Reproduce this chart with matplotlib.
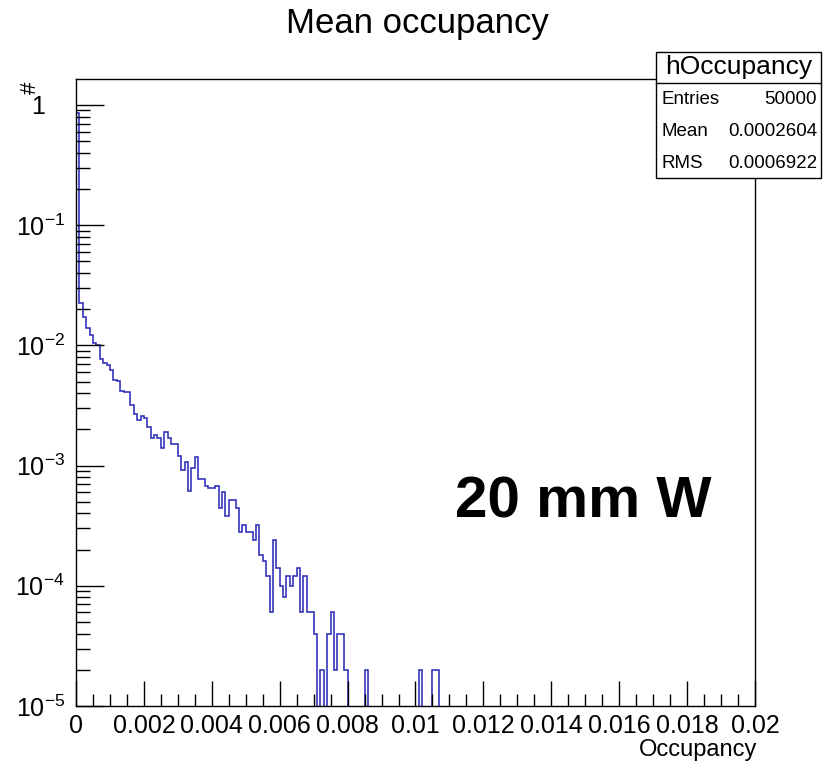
import numpy as np
import matplotlib
matplotlib.use('Agg')
import matplotlib.pyplot as plt
from matplotlib.ticker import LogLocator, MultipleLocator, NullFormatter
from matplotlib.patches import Rectangle
from matplotlib.lines import Line2D

plt.rcParams['font.family'] = ['Liberation Sans', 'DejaVu Sans']
plt.rcParams['mathtext.fontset'] = 'custom'
plt.rcParams['mathtext.rm'] = 'Liberation Sans'

# histogram: 200 bins from 0 to 0.02, contents normalised to entries
n_bins = 200
x_lo, x_hi = 0.0, 0.02
head_values = [
    0.857, 0.0226, 0.0172, 0.0140, 0.0122, 0.0105, 0.0101, 0.0077, 0.0072, 0.0069,
    0.0062, 0.0052, 0.0051, 0.0042, 0.0041, 0.0041, 0.0032, 0.0027, 0.0024, 0.0026,
    0.0025, 0.0021, 0.0017, 0.0018, 0.0017, 0.0014, 0.0019, 0.0017, 0.0015, 0.0015,
    0.0012, 0.00092, 0.00108, 0.00062, 0.00096, 0.00118, 0.00078, 0.00078, 0.00068, 0.00065,
    0.00065, 0.00068, 0.00044, 0.00060, 0.00038, 0.00052, 0.00052, 0.00044, 0.00028, 0.00032,
    0.00028, 0.00028, 0.00024, 0.00032, 0.00018, 0.00016, 0.00012, 0.00006, 0.00024, 0.00014,
    0.00010, 0.00008, 0.00012, 0.00010, 0.00012, 0.00014, 0.00006, 0.00012, 0.00006, 0.00006,
    0.00004, 0.0, 0.00002, 0.0, 0.00004, 0.00006, 0.00002, 0.00004, 0.00004, 0.00002,
]
tail_bins = [85, 101, 105, 106]
tail_values = [0.00002, 0.00002, 0.00002, 0.00002]

xtick_vals = [0, 0.002, 0.004, 0.006, 0.008, 0.01, 0.012, 0.014, 0.016, 0.018, 0.02]
xtick_labels = ['0', '0.002', '0.004', '0.006', '0.008', '0.01', '0.012', '0.014', '0.016', '0.018', '0.02']
ytick_vals = [1e-5, 1e-4, 1e-3, 1e-2, 1e-1, 1]
ytick_labels = ['$10^{-5}$', '$10^{-4}$', '$10^{-3}$', '$10^{-2}$', '$10^{-1}$', '1']

stats_rows = [('Entries', '50000'), ('Mean', '0.0002604'), ('RMS', '0.0006922')]

W, H = 829, 770
fig = plt.figure(figsize=(W / 100, H / 100), dpi=100)
ax = fig.add_axes([76 / W, 1 - 706 / H, 679 / W, 627 / H])

values = np.zeros(n_bins)
values[:len(head_values)] = head_values
values[tail_bins] = tail_values
edges = np.linspace(x_lo, x_hi, n_bins + 1)
# empty bins drop below the frame, like ROOT does on a log axis
shown = np.where(values > 0, values, 1e-8)
ax.stairs(shown, edges, baseline=None, color='#3535bb', lw=1.2)

ax.set_yscale('log')
ax.set_xlim(x_lo, x_hi)
ax.set_ylim(1e-5, 1.645)

ax.set_xticks(xtick_vals)
ax.set_xticklabels(xtick_labels)
ax.xaxis.set_minor_locator(MultipleLocator(0.0005))
ax.set_yticks(ytick_vals)
ax.set_yticklabels(ytick_labels)
ax.yaxis.set_minor_locator(LogLocator(base=10, subs=np.arange(2, 10)))
ax.yaxis.set_minor_formatter(NullFormatter())

ax.tick_params(axis='both', which='both', direction='in', top=False, right=False)
ax.tick_params(axis='y', which='major', length=20, width=1, labelsize=18, pad=8)
ax.tick_params(axis='y', which='minor', length=10, width=1)
ax.tick_params(axis='x', which='major', length=18, width=1, labelsize=18, pad=6)
ax.tick_params(axis='x', which='minor', length=9, width=1)
for s in ax.spines.values():
    s.set_linewidth(1)
# ROOT puts the "1" label a bit left of the others
ax.get_yticklabels()[-1].set_x(-0.03)

ax.text(0.558, 0.30, '20 mm W', transform=ax.transAxes, fontsize=42,
        fontweight='bold', ha='left', va='baseline')

fig.text(417 / W, 1 - 24 / H, 'Mean occupancy', ha='center', va='center', fontsize=25)
fig.text(30 / W, 1 - 88 / H, '#', rotation=90, ha='center', va='center', fontsize=16)
fig.text(757 / W, 1 - 750 / H, 'Occupancy', ha='right', va='center', fontsize=17)

# stats box
bx0, bx1, by0, by1 = 656, 821, 52, 178
fig.add_artist(Rectangle((bx0 / W, 1 - by1 / H), (bx1 - bx0) / W, (by1 - by0) / H,
                         transform=fig.transFigure, facecolor='white',
                         edgecolor='black', lw=1, zorder=5))
fig.add_artist(Line2D([bx0 / W, bx1 / W], [1 - 83 / H, 1 - 83 / H],
                      transform=fig.transFigure, color='black', lw=1, zorder=6))
fig.text((bx0 + bx1) / 2 / W, 1 - 67 / H, 'hOccupancy', ha='center', va='center',
         fontsize=19, zorder=7)
for i, (name, val) in enumerate(stats_rows):
    yc = 1 - (100 + 31.5 * i) / H
    fig.text(662 / W, yc, name, ha='left', va='center', fontsize=13.5, zorder=7)
    fig.text(817 / W, yc, val, ha='right', va='center', fontsize=13.5, zorder=7)

fig.savefig('out.png', dpi=100)
